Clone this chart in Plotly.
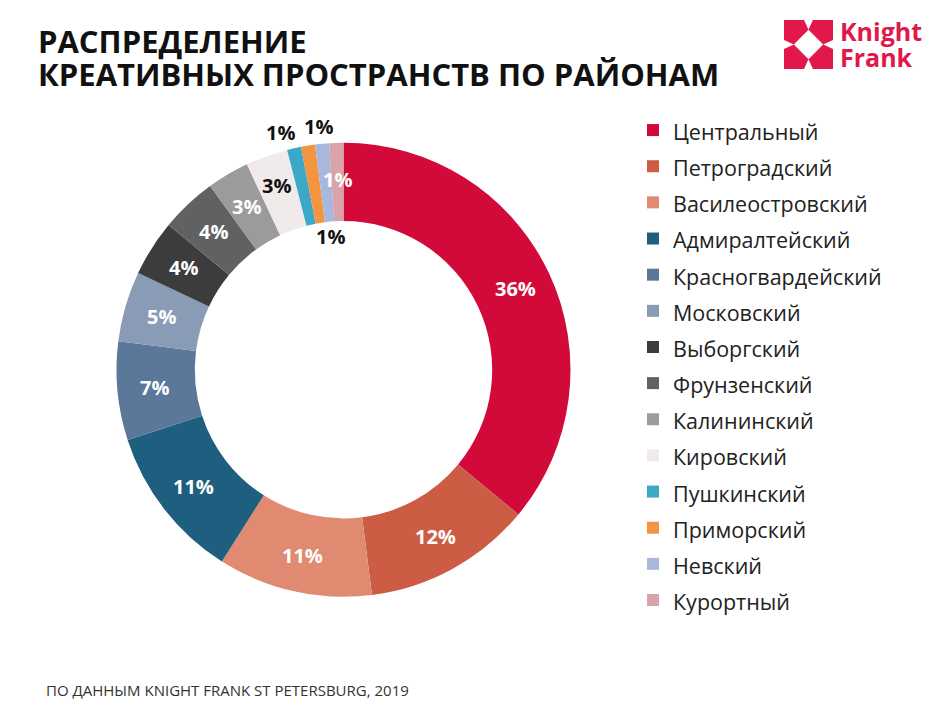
import math
import plotly.graph_objects as go

W, H = 945, 709
OFF = 8  # page margin around the plot in the screenshot

districts = ["Центральный", "Петроградский", "Василеостровский", "Адмиралтейский",
             "Красногвардейский", "Московский", "Выборгский", "Фрунзенский",
             "Калининский", "Кировский", "Пушкинский", "Приморский", "Невский", "Курортный"]
shares = [36, 12, 11, 11, 7, 5, 4, 4, 3, 3, 1, 1, 1, 1]
colors = ["#D20A3A", "#CD5C45", "#E08A72", "#1E5E7E", "#5B7799", "#8A9BB5", "#3C3C3E",
          "#616163", "#9B9B9B", "#F1EAEA", "#3AA8C6", "#F39440", "#A8B8DC", "#D9A3AA"]

title_lines = ["РАСПРЕДЕЛЕНИЕ", "КРЕАТИВНЫХ ПРОСТРАНСТВ ПО РАЙОНАМ"]
source_note = "ПО ДАННЫМ KNIGHT FRANK ST PETERSBURG, 2019"

FONT = "Open Sans"
RED = "#E2184A"
DARK = "#111111"


def px(x):
    return (x - OFF) / W


def py(y):
    return 1 - (y - OFF) / H


# percent labels sit mid-ring; a few are moved by hand (radius factor, x shift, colour)
label_place = {
    "Кировский": (0.865, 0, DARK),
    "Пушкинский": (1.07, -10, DARK),
    "Приморский": (1.085, 14, DARK),
    "Невский": (0.59, 0, DARK),
}
default_place = (0.837, 0, "white")

dom_x = [px(116.5), px(570.5)]
dom_y = [py(597), py(142.5)]

fig = go.Figure(go.Pie(
    labels=[f'<span style="font-size:21.5px">{d}</span>' for d in districts],
    values=shares,
    textinfo="none",
    marker=dict(colors=colors, line=dict(width=0)),
    hole=0.655,
    sort=False,
    direction="clockwise",
    rotation=0,
    hoverinfo="skip",
    domain=dict(x=dom_x, y=dom_y),
))

# percent labels, positioned from cumulative shares
cx_pix = (116.5 + 570.5) / 2
cy_pix = (597 + 142.5) / 2
R = 227
total = sum(shares)
cum = 0
annotations = []
for d, v in zip(districts, shares):
    mid = (cum + v / 2) / total * 2 * math.pi
    cum += v
    f, shift, col = label_place.get(d, default_place)
    x = cx_pix + f * R * math.sin(mid)
    y = cy_pix - f * R * math.cos(mid)
    annotations.append(dict(x=px(x), y=py(y), xref="paper", yref="paper", text=f"{v}%",
                            xanchor="center", yanchor="middle",
                            showarrow=False, xshift=shift,
                            font=dict(family=FONT, size=20, color=col, weight="bold")))

annotations.append(dict(x=px(36), y=py(41), xref="paper", yref="paper", text=title_lines[0],
                        xanchor="left", yanchor="middle", showarrow=False,
                        font=dict(family=FONT, size=31, color=DARK, weight="bold")))
annotations.append(dict(x=px(36), y=py(74), xref="paper", yref="paper", text=title_lines[1],
                        xanchor="left", yanchor="middle", showarrow=False,
                        font=dict(family=FONT, size=31, color=DARK, weight="bold")))
annotations.append(dict(x=px(44), y=py(690), xref="paper", yref="paper", text=source_note,
                        xanchor="left", yanchor="middle", showarrow=False,
                        font=dict(family=FONT, size=15, color="#333333")))
annotations.append(dict(x=px(838), y=py(31), xref="paper", yref="paper", text="Knight",
                        xanchor="left", yanchor="middle", showarrow=False,
                        font=dict(family=FONT, size=25, color=RED, weight="bold")))
annotations.append(dict(x=px(838), y=py(57), xref="paper", yref="paper", text="Frank",
                        xanchor="left", yanchor="middle", showarrow=False,
                        font=dict(family=FONT, size=25, color=RED, weight="bold")))


# logo mark: red square with white diamond and notches
def path(points):
    return "M " + " L ".join(f"{px(x0 + s * a)},{py(y0 + s * b)}" for a, b in points) + " Z"


x0, y0, s = 784, 20, 49
shapes = [
    dict(type="path", xref="paper", yref="paper", line=dict(width=0), fillcolor=RED,
         path=path([(0, 0), (1, 0), (1, 1), (0, 1)])),
    dict(type="path", xref="paper", yref="paper", line=dict(width=0), fillcolor="white",
         path=path([(0.5, 0.2), (0.8, 0.5), (0.5, 0.8), (0.2, 0.5)])),
]
for tri in [[(0.41, 0), (0.59, 0), (0.5, 0.2)], [(1, 0.41), (1, 0.59), (0.8, 0.5)],
            [(0.41, 1), (0.59, 1), (0.5, 0.8)], [(0, 0.41), (0, 0.59), (0.2, 0.5)]]:
    shapes.append(dict(type="path", xref="paper", yref="paper", line=dict(width=0),
                       fillcolor="white", path=path(tri)))

fig.update_layout(
    width=W, height=H,
    margin=dict(l=0, r=0, t=0, b=0),
    paper_bgcolor="white",
    plot_bgcolor="white",
    showlegend=True,
    legend=dict(x=px(633), y=py(107), xanchor="left", yanchor="top",
                font=dict(family=FONT, size=25.5, color="#222222"),
                bgcolor="rgba(0,0,0,0)", traceorder="normal"),
    annotations=annotations,
    shapes=shapes,
)

fig.write_html("out.html")
